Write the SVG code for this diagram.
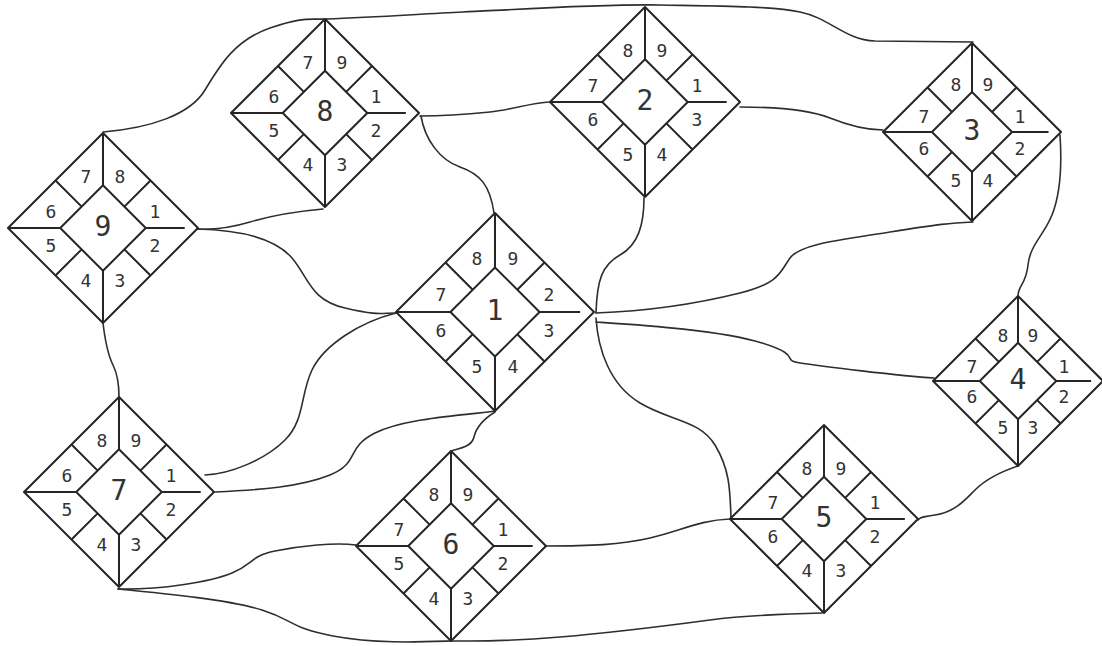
<svg xmlns="http://www.w3.org/2000/svg" xmlns:xlink="http://www.w3.org/1999/xlink" width="1102" height="646" viewBox="0 0 1102 646">
<defs>
<style>
.fr{fill:none;stroke:#262626;stroke-width:2;stroke-linejoin:round;vector-effect:non-scaling-stroke}
.cn{fill:none;stroke:#2e2e2e;stroke-width:1.6;stroke-linecap:round}
.c{font-family:"DejaVu Sans Mono","Liberation Mono",monospace;font-size:18px;fill:#333;text-anchor:middle;dominant-baseline:central}
.m{font-family:"DejaVu Sans Mono","Liberation Mono",monospace;font-size:28px;fill:#333;text-anchor:middle;dominant-baseline:central}
</style>
<g id="frame">
<path class="fr" d="M0,-100 L100,0 L0,100 L-100,0 Z"/>
<path class="fr" d="M0,-45 L45,0 L0,45 L-45,0 Z"/>
<path class="fr" d="M0,-100 V-45 M0,45 V100 M-100,0 H-45 M45,0 H86 M-22.5,-22.5 L-50,-50 M22.5,-22.5 L50,-50 M22.5,22.5 L50,50 M-22.5,22.5 L-50,50"/>
</g>
</defs>
<rect width="1102" height="646" fill="#fff"/>
<g id="connectors">
<path class="cn" d="M326,19 C380,17 420,14 463,12 S600,4 660,5 S770,6 800,12 S845,40 875,41 L973,42"/>
<path class="cn" d="M103,132 C150,128 190,115 205,90 S235,40 270,28 S310,20 326,19"/>
<path class="cn" d="M323,209 C290,212 270,216 250,222 S215,230 197,229"/>
<path class="cn" d="M197,229 C240,230 275,238 292,258 S310,300 345,308 S380,313 396,313"/>
<path class="cn" d="M420,116 C450,116 470,114 490,112 S530,103 550,102"/>
<path class="cn" d="M421,116 C425,140 440,160 460,167 S490,185 494,213"/>
<path class="cn" d="M644,198 C644,225 638,245 620,255 S597,280 596,313"/>
<path class="cn" d="M596,318 C598,350 610,385 640,403 S700,420 715,445 S730,490 731,518"/>
<path class="cn" d="M596,313 C650,311 700,303 740,293 S780,272 790,258 S840,240 890,232 S950,223 973,222"/>
<path class="cn" d="M596,322 C640,325 720,330 762,343 S780,360 800,363 S900,376 934,378"/>
<path class="cn" d="M740,107 C780,107 810,110 830,118 S865,130 883,130"/>
<path class="cn" d="M1060,135 C1062,165 1060,195 1052,215 S1030,245 1028,265 S1018,285 1018,296"/>
<path class="cn" d="M1018,466 C1000,472 985,480 975,490 S955,512 935,515 S922,518 918,520"/>
<path class="cn" d="M822,613 C780,614 740,616 710,620 S620,632 560,637 S480,641 451,641"/>
<path class="cn" d="M118,589 C170,594 230,600 262,610 S290,628 333,636 S420,642 451,641"/>
<path class="cn" d="M118,589 C160,590 210,582 232,573 S250,556 275,551 S335,542 356,545"/>
<path class="cn" d="M215,492 C260,490 300,487 330,475 S345,448 375,433 S460,416 495,411"/>
<path class="cn" d="M495,412 C482,420 476,428 474,437 S462,448 451,451"/>
<path class="cn" d="M205,475 C230,474 265,460 285,440 S300,395 312,370 S360,322 396,313"/>
<path class="cn" d="M103,323 C105,340 108,355 113,365 S119,385 119,397"/>
<path class="cn" d="M545,546 C590,546 620,545 650,538 S700,520 730,519"/>
</g>
<g id="node1" transform="translate(495,312)">
<use xlink:href="#frame" href="#frame" transform="scale(0.99)"/>
<text class="m" x="0" y="-2">1</text>
<text class="c" x="54" y="-18">2</text><text class="c" x="54" y="18">3</text><text class="c" x="18" y="54">4</text><text class="c" x="-18" y="54">5</text><text class="c" x="-54" y="18">6</text><text class="c" x="-54" y="-18">7</text><text class="c" x="-18" y="-54">8</text><text class="c" x="18" y="-54">9</text>
</g>
<g id="node2" transform="translate(645,102)">
<use xlink:href="#frame" href="#frame" transform="scale(0.95)"/>
<text class="m" x="0" y="-2">2</text>
<text class="c" x="52" y="-17">1</text><text class="c" x="52" y="17">3</text><text class="c" x="17" y="52">4</text><text class="c" x="-17" y="52">5</text><text class="c" x="-52" y="17">6</text><text class="c" x="-52" y="-17">7</text><text class="c" x="-17" y="-52">8</text><text class="c" x="17" y="-52">9</text>
</g>
<g id="node3" transform="translate(972,132)">
<use xlink:href="#frame" href="#frame" transform="scale(0.89)"/>
<text class="m" x="0" y="-2">3</text>
<text class="c" x="48" y="-16">1</text><text class="c" x="48" y="16">2</text><text class="c" x="16" y="48">4</text><text class="c" x="-16" y="48">5</text><text class="c" x="-48" y="16">6</text><text class="c" x="-48" y="-16">7</text><text class="c" x="-16" y="-48">8</text><text class="c" x="16" y="-48">9</text>
</g>
<g id="node4" transform="translate(1018,381)">
<use xlink:href="#frame" href="#frame" transform="scale(0.85)"/>
<text class="m" x="0" y="-2">4</text>
<text class="c" x="46" y="-15">1</text><text class="c" x="46" y="15">2</text><text class="c" x="15" y="46">3</text><text class="c" x="-15" y="46">5</text><text class="c" x="-46" y="15">6</text><text class="c" x="-46" y="-15">7</text><text class="c" x="-15" y="-46">8</text><text class="c" x="15" y="-46">9</text>
</g>
<g id="node5" transform="translate(824,519)">
<use xlink:href="#frame" href="#frame" transform="scale(0.94)"/>
<text class="m" x="0" y="-2">5</text>
<text class="c" x="51" y="-17">1</text><text class="c" x="51" y="17">2</text><text class="c" x="17" y="51">3</text><text class="c" x="-17" y="51">4</text><text class="c" x="-51" y="17">6</text><text class="c" x="-51" y="-17">7</text><text class="c" x="-17" y="-51">8</text><text class="c" x="17" y="-51">9</text>
</g>
<g id="node6" transform="translate(451,546)">
<use xlink:href="#frame" href="#frame" transform="scale(0.95)"/>
<text class="m" x="0" y="-2">6</text>
<text class="c" x="52" y="-17">1</text><text class="c" x="52" y="17">2</text><text class="c" x="17" y="52">3</text><text class="c" x="-17" y="52">4</text><text class="c" x="-52" y="17">5</text><text class="c" x="-52" y="-17">7</text><text class="c" x="-17" y="-52">8</text><text class="c" x="17" y="-52">9</text>
</g>
<g id="node7" transform="translate(119,492)">
<use xlink:href="#frame" href="#frame" transform="scale(0.95)"/>
<text class="m" x="0" y="-2">7</text>
<text class="c" x="52" y="-17">1</text><text class="c" x="52" y="17">2</text><text class="c" x="17" y="52">3</text><text class="c" x="-17" y="52">4</text><text class="c" x="-52" y="17">5</text><text class="c" x="-52" y="-17">6</text><text class="c" x="-17" y="-52">8</text><text class="c" x="17" y="-52">9</text>
</g>
<g id="node8" transform="translate(325,113)">
<use xlink:href="#frame" href="#frame" transform="scale(0.94)"/>
<text class="m" x="0" y="-2">8</text>
<text class="c" x="51" y="-17">1</text><text class="c" x="51" y="17">2</text><text class="c" x="17" y="51">3</text><text class="c" x="-17" y="51">4</text><text class="c" x="-51" y="17">5</text><text class="c" x="-51" y="-17">6</text><text class="c" x="-17" y="-51">7</text><text class="c" x="17" y="-51">9</text>
</g>
<g id="node9" transform="translate(103,228)">
<use xlink:href="#frame" href="#frame" transform="scale(0.95)"/>
<text class="m" x="0" y="-2">9</text>
<text class="c" x="52" y="-17">1</text><text class="c" x="52" y="17">2</text><text class="c" x="17" y="52">3</text><text class="c" x="-17" y="52">4</text><text class="c" x="-52" y="17">5</text><text class="c" x="-52" y="-17">6</text><text class="c" x="-17" y="-52">7</text><text class="c" x="17" y="-52">8</text>
</g>
</svg>
